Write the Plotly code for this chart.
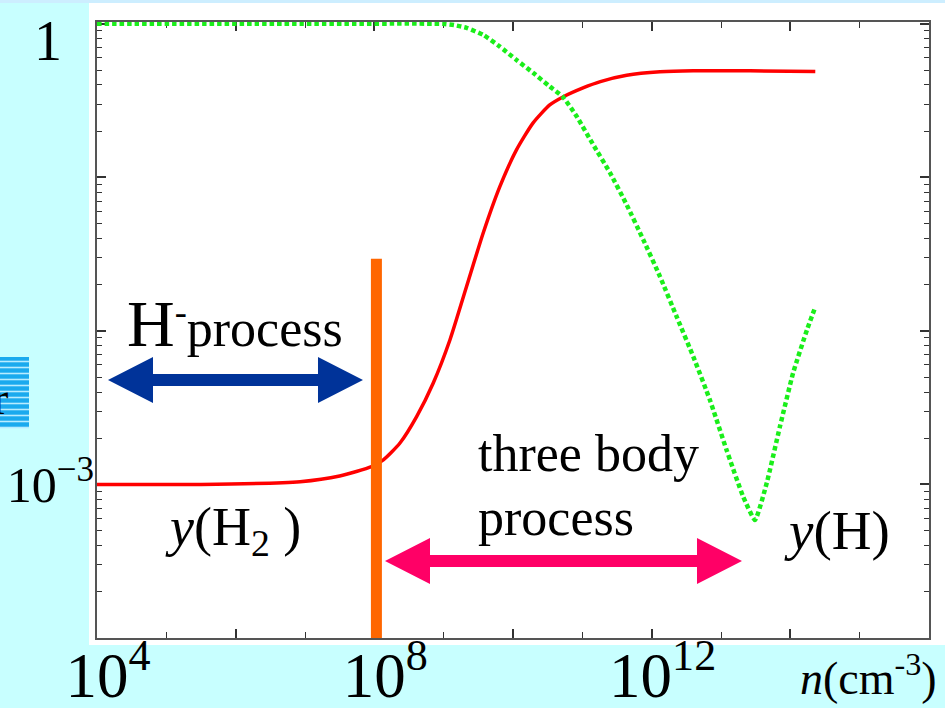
import numpy as np
import plotly.graph_objects as go

# ---- data (log10 values) ----
log_n_H2 = [4.0, 5.5, 6.93, 7.5, 7.96, 8.13, 8.37, 8.61, 8.85, 9.09, 9.33, 9.57,
            9.81, 10.05, 10.29, 10.53, 10.72, 11.01, 11.26, 11.64, 12.12, 12.6,
            13.42, 14.36]
log_y_H2 = [-3.0, -3.0, -2.982, -2.945, -2.884, -2.84, -2.73, -2.558, -2.339,
            -2.059, -1.711, -1.362, -1.06, -0.821, -0.645, -0.528, -0.476,
            -0.417, -0.376, -0.335, -0.312, -0.305, -0.306, -0.311]

log_n_H = [4.0, 6.93, 8.99, 9.15, 9.33, 9.57, 9.81, 10.05, 10.29, 10.53, 10.72,
           10.92, 11.15, 11.4, 11.64, 11.88, 12.12, 12.36, 12.6, 12.84, 13.08,
           13.32, 13.49, 13.66, 13.85, 14.04, 14.24, 14.36]
log_y_H = [0.0, 0.0, 0.0, -0.008, -0.026, -0.072, -0.148, -0.235, -0.319, -0.408,
           -0.476, -0.604, -0.782, -0.971, -1.179, -1.407, -1.646, -1.907, -2.167,
           -2.45, -2.775, -3.08, -3.231, -2.99, -2.623, -2.274, -1.993, -1.844]

log_n_crit = 8.03          # orange boundary line
log_y_crit_top = -1.53

x_tick_exp = list(range(4, 17))
x_label_exp = [4, 8, 12]
y_tick_exp = [-4, -3, -2, -1, 0]

# ---- layout geometry (pixels) ----
W, H = 945, 708
L, R, T, B = 97, 16, 22, 70
PW, PH = W - L - R, H - T - B
FONT = "Liberation Serif"


def px(x):
    return (x - L) / PW


def py(y):
    return (H - B - y) / PH


fig = go.Figure()

fig.add_trace(go.Scatter(
    x=10 ** np.array(log_n_H2), y=10 ** np.array(log_y_H2), mode="lines",
    line=dict(color="#ff0000", width=3.5, shape="spline", smoothing=0.6),
    hoverinfo="skip", showlegend=False))
fig.add_trace(go.Scatter(
    x=10 ** np.array(log_n_H), y=10 ** np.array(log_y_H), mode="lines",
    line=dict(color="#1aee1a", width=4.5, dash="4.5px,3px",
              shape="spline", smoothing=0.45),
    hoverinfo="skip", showlegend=False))
fig.add_trace(go.Scatter(
    x=[10 ** log_n_crit, 10 ** log_n_crit], y=[10 ** log_y_crit_top, 1e-4],
    mode="lines", line=dict(color="#ff6600", width=11),
    hoverinfo="skip", showlegend=False))

shapes = []
# white backing panel and top strip
shapes.append(dict(type="rect", xref="paper", yref="paper", layer="below",
                   x0=px(89), x1=px(945), y0=py(645), y1=py(3),
                   fillcolor="white", line=dict(width=0)))
shapes.append(dict(type="rect", xref="paper", yref="paper", layer="below",
                   x0=px(0), x1=px(945), y0=py(3), y1=py(0),
                   fillcolor="#cdeeff", line=dict(width=0)))
# striped box at left
shapes.append(dict(type="rect", xref="paper", yref="paper", layer="above",
                   x0=px(0), x1=px(29), y0=py(427), y1=py(357),
                   fillcolor="#1aaaee", line=dict(width=0)))
for k in range(12):
    yy = 357 + 4.5 + k * 6
    shapes.append(dict(type="line", xref="paper", yref="paper", layer="above",
                       x0=px(0), x1=px(29), y0=py(yy), y1=py(yy),
                       line=dict(color="#b8ecff", width=1.6)))


def double_arrow(xl, xr, yc, color, half=6, head=45, hh=23):
    pts = [(xl, yc), (xl + head, yc - hh), (xl + head, yc - half),
           (xr - head, yc - half), (xr - head, yc - hh), (xr, yc),
           (xr - head, yc + hh), (xr - head, yc + half), (xl + head, yc + half),
           (xl + head, yc + hh)]
    path = "M " + " L ".join(f"{px(a):.5f},{py(b):.5f}" for a, b in pts) + " Z"
    return dict(type="path", xref="paper", yref="paper", path=path, layer="above",
                fillcolor=color, line=dict(color=color, width=0))


shapes.append(double_arrow(108, 363, 380, "#003399"))
shapes.append(double_arrow(385, 742, 561, "#ff0066"))


def note(text, x, y, size, xanchor="center", align="center"):
    return dict(text=text, x=px(x), y=py(y), xref="paper", yref="paper",
                showarrow=False, align=align,
                font=dict(family=FONT, size=size, color="black"),
                xanchor=xanchor, yanchor="middle")


annotations = [
    note("1", 48, 41, 56),
    note("r", 10, 398, 46, xanchor="right"),
    note("<span style='font-size:66px'>H</span><sup>-</sup>process", 235, 323, 52),
    note("three body", 476, 453, 52, xanchor="left", align="left"),
    note("process", 476, 517, 52, xanchor="left", align="left"),
    note("<i>y</i>(H<sub>2</sub> )", 233, 530, 54),
    note("<i>y</i>(H)", 837, 530, 55),
    note("<i>n</i>(cm<sup>-3</sup>)", 868, 675, 46),
]

y_ticktext = ["10<sup>\u22123</sup>" if e == -3 else "" for e in y_tick_exp]
y_minor = [k * 10.0 ** e for e in range(-4, 0) for k in range(2, 10)]

fig.update_layout(
    width=W, height=H,
    margin=dict(l=L, r=R, t=T, b=B, pad=0, autoexpand=False),
    paper_bgcolor="#c8ffff", plot_bgcolor="white",
    shapes=shapes, annotations=annotations, showlegend=False,
    xaxis=dict(type="log", range=[4, 16], showgrid=False, zeroline=False,
               automargin=False,
               tickvals=[10.0 ** e for e in x_tick_exp if e % 2 == 0],
               ticktext=[f"10<sup>{e}</sup>" if e in x_label_exp else ""
                         for e in x_tick_exp if e % 2 == 0],
               ticks="inside", ticklen=9, tickwidth=1.5, tickcolor="#333",
               minor=dict(tickvals=[10.0 ** e for e in x_tick_exp if e % 2 == 1],
                          ticks="inside", ticklen=6, tickwidth=1.2, tickcolor="#333"),
               showline=True, linecolor="#555", linewidth=2, mirror="ticks",
               tickfont=dict(family=FONT, size=63, color="black"),
               ticklabelstandoff=-19, ticklabelshift=11,
               layer="below traces"),
    yaxis=dict(type="log", range=[-4, 0.012], showgrid=False, zeroline=False,
               automargin=False,
               tickvals=[10.0 ** e for e in y_tick_exp], ticktext=y_ticktext,
               ticks="inside", ticklen=9, tickwidth=1.5, tickcolor="#333",
               minor=dict(tickvals=y_minor, ticks="inside", ticklen=5,
                          tickwidth=1.2, tickcolor="#333"),
               showline=True, linecolor="#555", linewidth=2, mirror="ticks",
               tickfont=dict(family=FONT, size=50, color="black"),
               ticklabelstandoff=-9,
               layer="below traces"),
)

fig.write_html("out.html",
               config={"displayModeBar": False},
               post_script="document.body.style.margin='0';"
                           "document.body.style.overflow='hidden';")
